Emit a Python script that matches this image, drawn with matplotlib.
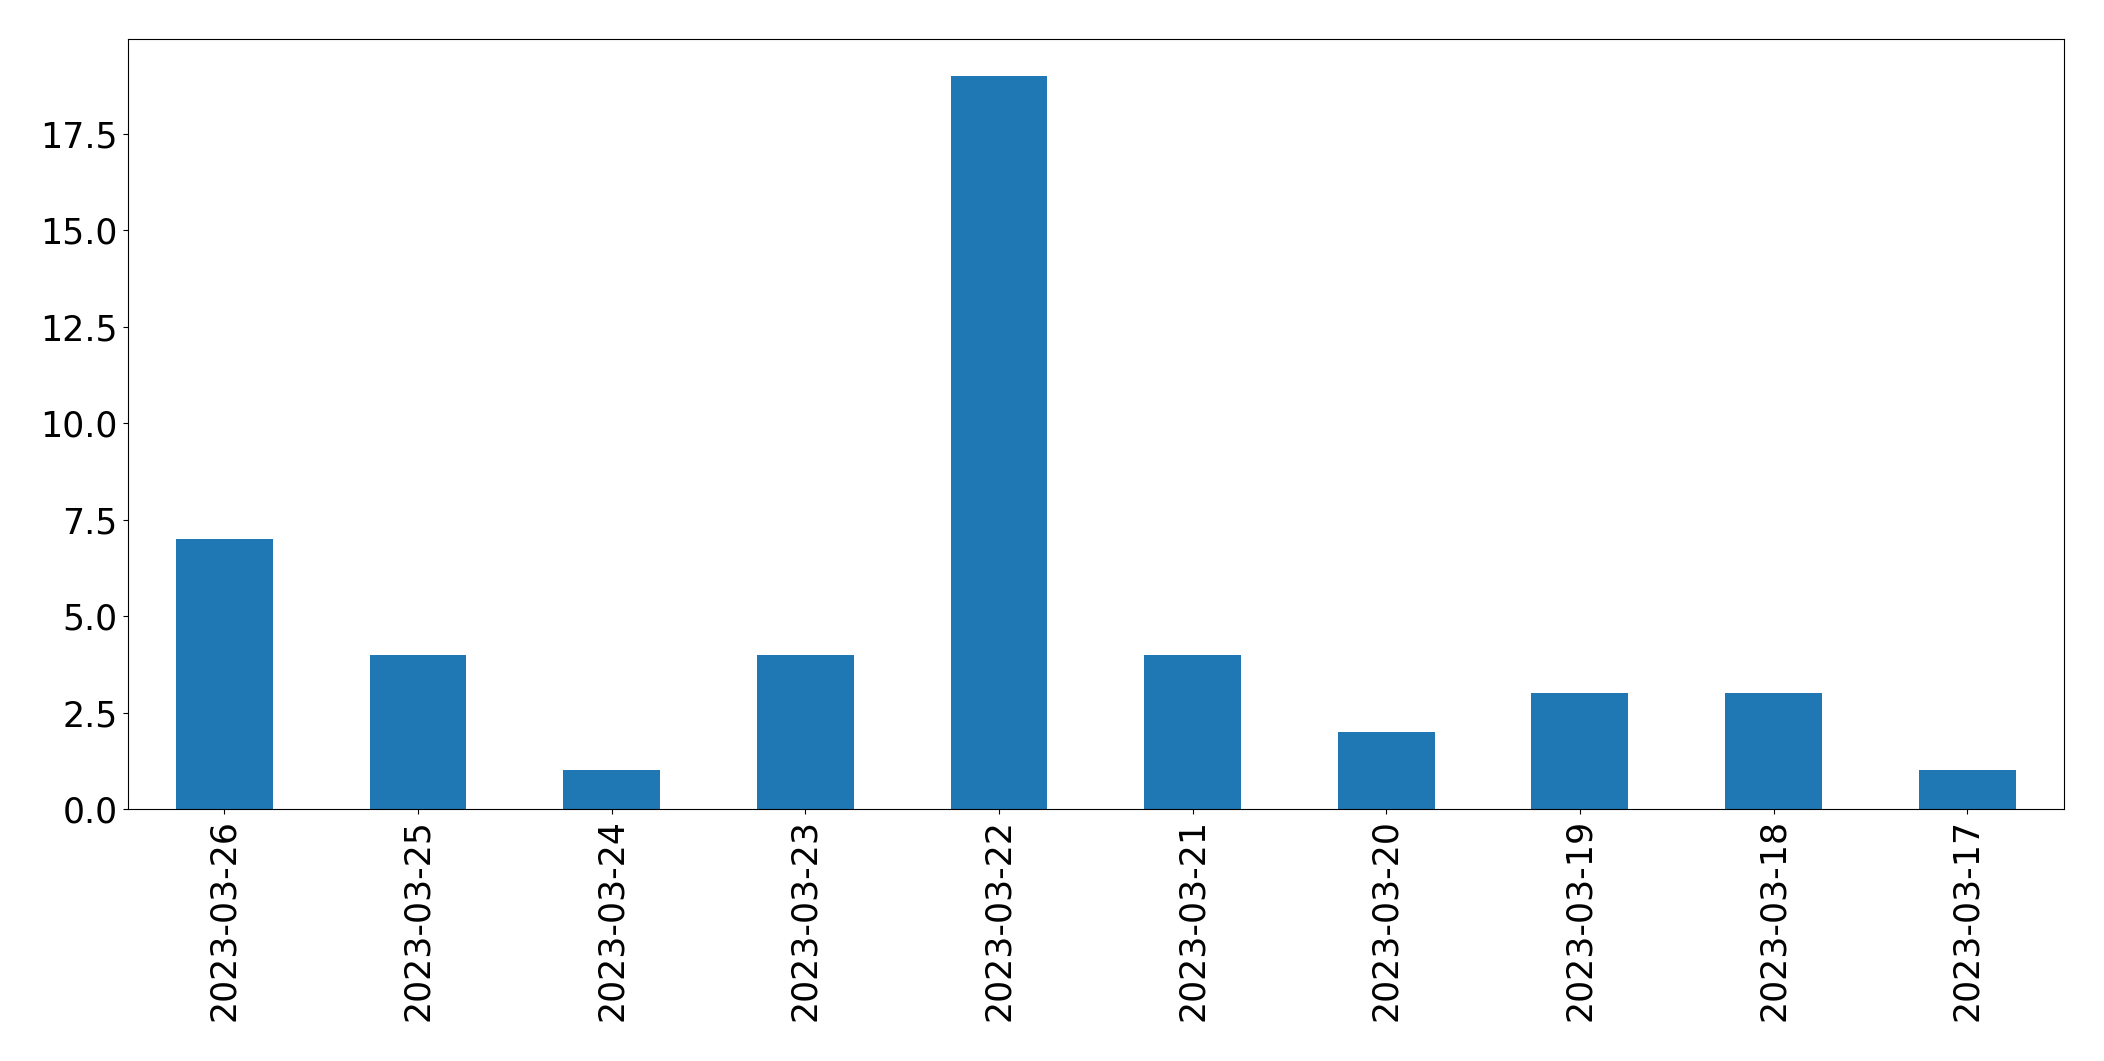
import matplotlib
matplotlib.use("Agg")
import matplotlib.pyplot as plt

dates = ["2023-03-26", "2023-03-25", "2023-03-24", "2023-03-23", "2023-03-22",
         "2023-03-21", "2023-03-20", "2023-03-19", "2023-03-18", "2023-03-17"]
counts = [7, 4, 1, 4, 19, 4, 2, 3, 3, 1]

fig = plt.figure(figsize=(21.04, 10.61), dpi=100)
ax = fig.add_axes([0.0606, 0.2375, 0.9204, 0.7255])
x = list(range(len(dates)))
ax.bar(x, counts, width=0.5, color="#1f77b4")
ax.set_xlim(-0.5, len(dates) - 0.5)
ax.set_ylim(0, max(counts) * 1.05)
ax.set_xticks(x)
ax.set_xticklabels(dates, rotation=90)
ax.tick_params(labelsize=25)
fig.savefig("out.png", dpi=100)
